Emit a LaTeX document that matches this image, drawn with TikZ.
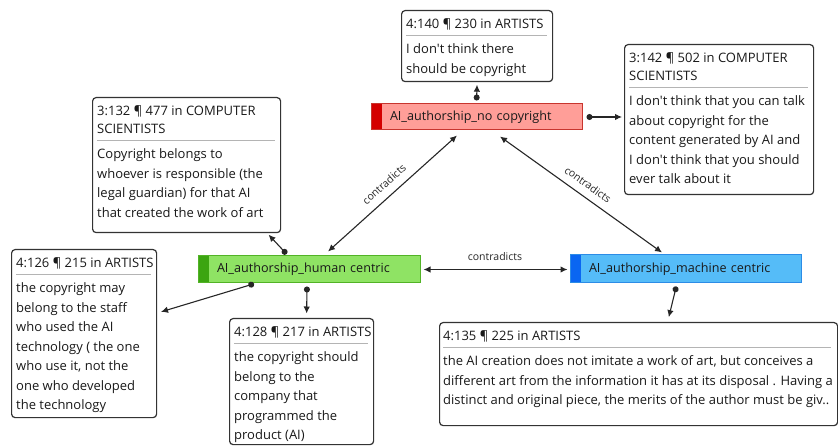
\documentclass[tikz,border=0pt]{standalone}
\usepackage{fontspec}
\setmainfont{Open Sans}[Ligatures=TeXOff]
\usetikzlibrary{arrows.meta}
\definecolor{rulegray}{HTML}{B4B4B4}
\definecolor{redfill}{HTML}{FF9E98}
\definecolor{redbar}{HTML}{D40000}
\definecolor{redline}{HTML}{C8352E}
\definecolor{greenfill}{HTML}{8FE364}
\definecolor{greenbar}{HTML}{3CA511}
\definecolor{greenline}{HTML}{52B326}
\definecolor{bluefill}{HTML}{55BCF8}
\definecolor{bluebar}{HTML}{0A66F2}
\definecolor{blueline}{HTML}{2C8CE6}
\def\qrule#1{\textcolor{rulegray}{\rule{#1pt}{1.5pt}}}
\def\qstrut{\rule{0pt}{13pt}}

\tikzset{
	quote/.style={draw=black!80, line width=1.2pt, rounded corners=3.5pt, fill=white, anchor=north west, inner sep=0pt},
	qtext/.style={anchor=north west, align=left, inner sep=0pt, text=black!90, font=\fontsize{13}{19.5}\selectfont},
	codebox/.style n args={3}{draw=#3, fill=#1, line width=1pt, inner xsep=19pt, align=left, text=black!90,
		font=\fontsize{12.6}{15}\selectfont,
		path picture={\fill[#2] (path picture bounding box.north west) rectangle ([xshift=11pt]path picture bounding box.south west);}},
	link/.style={{Circle[length=6pt]}-{Latex[length=7pt,width=6.5pt]}, line width=1.1pt, draw=black!85},
	both/.style={{Latex[length=7pt,width=6.5pt]}-{Latex[length=7pt,width=6.5pt]}, line width=1.1pt, draw=black!85},
	rel/.style={font=\fontsize{10.5}{12}\selectfont, text=black!85, inner sep=2pt}
}

\begin{document}
\begin{tikzpicture}[x=1pt, y=-1pt]
		%%%%% FRAME %%%%%
		\useasboundingbox (0,0) rectangle (838,446);
		\clip (0,0) rectangle (838,446);
		
		%%%%% CODES %%%%%
		\node[codebox={redfill}{redbar}{redline}, text width=173pt, minimum height=26pt] (nocopy) at (476.5,117) {AI\_authorship\_no copyright};
		\node[codebox={greenfill}{greenbar}{greenline}, text width=184pt, minimum height=27pt] (human) at (309,269.5) {AI\_authorship\_human centric};
		\node[codebox={bluefill}{bluebar}{blueline}, text width=193pt, minimum height=28pt] (machine) at (685.5,269) {AI\_authorship\_machine centric};
		
		%%%%% QUOTES %%%%%
		\node[quote, minimum width=151pt, minimum height=71pt] (q4140) at (401,10) {};
		\node[qtext] at ([xshift=5pt,yshift=-5.5pt]q4140.north west) {\qstrut 4:140 ¶ 230 in ARTISTS\\[-12pt]\qrule{141}\\[-2pt]I don't think there\\should be copyright};
		
		\node[quote, minimum width=189pt, minimum height=150pt] (q3142) at (624,44) {};
		\node[qtext] at ([xshift=5pt,yshift=-5.5pt]q3142.north west) {\qstrut 3:142 ¶ 502 in COMPUTER\\[-1.5pt]SCIENTISTS\\[-12pt]\qrule{179}\\[-2pt]I don't think that you can talk\\about copyright for the\\content generated by AI and\\I don't think that you should\\ever talk about it};
		
		\node[quote, minimum width=188pt, minimum height=135pt] (q3132) at (92,97) {};
		\node[qtext] at ([xshift=5pt,yshift=-5.5pt]q3132.north west) {\qstrut 3:132 ¶ 477 in COMPUTER\\[-1.5pt]SCIENTISTS\\[-12pt]\qrule{178}\\[-2pt]Copyright belongs to\\whoever is responsible (the\\legal guardian) for that AI\\that created the work of art};
		
		\node[quote, minimum width=145pt, minimum height=168pt] (q4126) at (11,249) {};
		\node[qtext] at ([xshift=5pt,yshift=-5.5pt]q4126.north west) {\qstrut 4:126 ¶ 215 in ARTISTS\\[-12pt]\qrule{135}\\[-2pt]the copyright may\\belong to the staff\\who used the AI\\technology ( the one\\who use it, not the\\one who developed\\the technology};
		
		\node[quote, minimum width=144pt, minimum height=126pt] (q4128) at (229,318) {};
		\node[qtext] at ([xshift=5pt,yshift=-5.5pt]q4128.north west) {\qstrut 4:128 ¶ 217 in ARTISTS\\[-12pt]\qrule{134}\\[-2pt]the copyright should\\belong to the\\company that\\programmed the\\product (AI)};
		
		\node[quote, minimum width=398pt, minimum height=103pt] (q4135) at (439,322) {};
		\node[qtext] at ([xshift=4pt,yshift=-5.5pt]q4135.north west) {\qstrut 4:135 ¶ 225 in ARTISTS\\[-12pt]\qrule{388}\\[-2pt]the AI creation does not imitate a work of art, but conceives a\\different art from the information it has at its disposal . Having a\\distinct and original piece, the merits of the author must be giv..};
		
		%%%%% LINKS %%%%%
		\draw[link, shorten <=3pt, shorten >=2.5pt] (nocopy.north) -- (q4140.south);
		\draw[link, shorten <=4pt, shorten >=2pt] (nocopy.east) -- (nocopy.east -| q3142.west);
		\draw[link, shorten <=2pt, shorten >=2pt] ([xshift=-21pt]human.north) -- ([xshift=-14pt]q3132.south east);
		\draw[link, shorten <=1pt, shorten >=4pt] ([xshift=-54pt]human.south) -- ([yshift=-64pt]q4126.north east);
		\draw[link, shorten <=3pt, shorten >=4.5pt] ([xshift=-2pt]human.south) -- ([xshift=5pt]q4128.north);
		\draw[link, shorten <=3pt, shorten >=5pt] ([xshift=-8.5pt]machine.south) -- ([xshift=29pt]q4135.north);
		
		%%%%% CONTRADICTS %%%%%
		\draw[both] ([xshift=19pt,yshift=4pt]human.north) -- node[rel, midway, above=6pt, sloped] {contradicts} ([xshift=-19.5pt,yshift=-5pt]nocopy.south);
		\draw[both] ([xshift=23.5pt,yshift=-6pt]nocopy.south) -- node[rel, midway, above=5.5pt, sloped] {contradicts} ([xshift=-23.5pt,yshift=2pt]machine.north);
		\draw[both, shorten <=3pt, shorten >=2pt] (human.east) -- node[rel, midway, above=6.5pt] {contradicts} (human.east -| machine.west);
		
		%%%%% END %%%%%
\end{tikzpicture}
\end{document}
